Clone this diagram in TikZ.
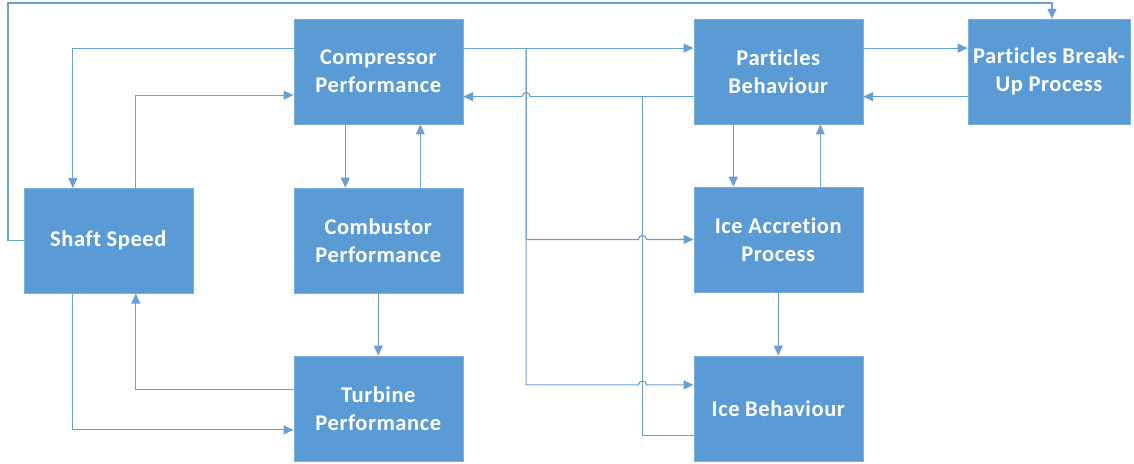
\documentclass[tikz,border=0pt]{standalone}
\usepackage{fontspec}
\setmainfont{Carlito}[LetterSpace=2.5,Ligatures={NoCommon}]
\usetikzlibrary{arrows.meta,calc}
\definecolor{boxblue}{HTML}{5B9BD5}
\definecolor{lineblue}{HTML}{6A9FD6}
\tikzset{
  blk/.style={fill=boxblue, draw=boxblue!80!white, line width=0.6pt, minimum width=169pt, minimum height=105pt,
    inner sep=0pt, align=center, text=white,
    font=\fontsize{22.5}{28}\selectfont\bfseries},
  conn/.style={draw=lineblue, line width=1.1pt, -{Triangle[length=10pt,width=9pt]}},
  plain/.style={draw=lineblue, line width=1.1pt}
}
\begin{document}
\begin{tikzpicture}[x=1pt,y=-1pt]
\useasboundingbox (0,0) rectangle (1134,463);
% nodes
\node[blk] (comp) at (378.3,71.6) {Compressor\\Performance};
\node[blk] (shaft) at (108.3,240.8) {Shaft Speed};
\node[blk] (comb) at (378.3,240.5) {Combustor\\Performance};
\node[blk] (turb) at (378.3,408.4) {Turbine\\Performance};
\node[blk] (pb) at (778.3,71.6) {Particles\\Behaviour};
\node[blk, minimum width=162pt] (pbu) at (1049,71.6) {Particles Break-\\Up Process};
\node[blk] (iap) at (778.3,239.5) {Ice Accretion\\Process};
\node[blk] (ib) at (778.3,408.4) {Ice Behaviour};
% coordinates
\coordinate (topleft) at (8,3);
\coordinate (br) at ($(comp.east)+(63,-23.5)$);
\coordinate (pbout) at ($(pb.west)+(0,25)$);
\coordinate (ibin) at ($(ib.west)+(0,-23.5)$);
\coordinate (ibout) at ($(ib.west)+(0,27.5)$);
% connectors
\draw[conn] (shaft.west) -| (topleft) -| ([xshift=3pt]pbu.north);
\draw[conn] ($(comp.west)+(0,-23.5)$) -| ($(shaft.north)+(-35.5,0)$);
\draw[conn] ($(shaft.north)+(27.5,0)$) |- ($(comp.west)+(0,23.5)$);
\draw[conn] ($(comp.south)+(-33,0)$) -- ($(comb.north)+(-33,0)$);
\draw[conn] ($(comb.north)+(42,0)$) -- ($(comp.south)+(42,0)$);
\draw[conn] (comb.south) -- (turb.north);
\draw[conn] ($(turb.west)+(0,-18.5)$) -| ($(shaft.south)+(27.5,0)$);
\draw[conn] ($(shaft.south)+(-35.5,0)$) |- ($(turb.west)+(0,21.5)$);
\draw[conn] ($(comp.east)+(0,-23.5)$) -- ($(pb.west)+(0,-23.5)$);
\draw[conn] (br) -- (br |- iap.west) -- ($(iap.west)+(-55,0)$) arc[start angle=180,end angle=0,radius=4pt] -- (iap.west);
\draw[conn] (br) -- (br |- ibin) -- ($(ibin)+(-55,0)$) arc[start angle=180,end angle=0,radius=4pt] -- (ibin);
\draw[conn] (pbout) -- ($(comp.east)+(67,25)$) arc[start angle=0,end angle=180,radius=4pt] -- ($(comp.east)+(0,25)$);
\draw[plain] (ibout) -| ($(pbout)+(-51,0)$);
\draw[conn] ($(pb.east)+(0,-23.5)$) -- ($(pbu.west)+(0,-23.5)$);
\draw[conn] ($(pbu.west)+(0,25)$) -- ($(pb.east)+(0,25)$);
\draw[conn] ($(pb.south)+(-45,0)$) -- ($(iap.north)+(-45,0)$);
\draw[conn] ($(iap.north)+(42,0)$) -- ($(pb.south)+(42,0)$);
\draw[conn] (iap.south) -- (ib.north);
\end{tikzpicture}
\end{document}
